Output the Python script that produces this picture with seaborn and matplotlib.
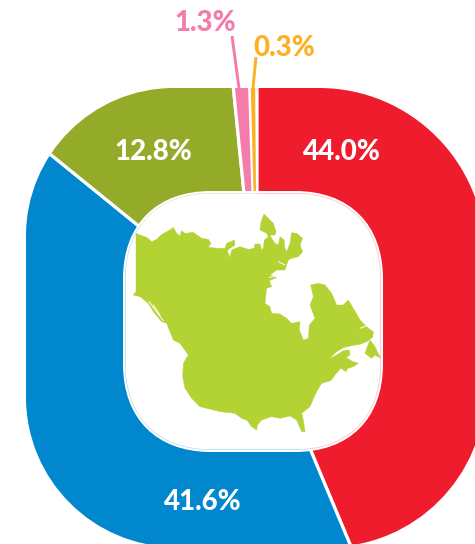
import matplotlib
matplotlib.use("Agg")
import matplotlib.pyplot as plt
import seaborn as sns
import numpy as np
from matplotlib.patches import PathPatch, Polygon
from matplotlib.path import Path

regions = ["Red", "Blue", "Olive", "Pink", "Orange"]
shares = [44.0, 41.6, 12.8, 1.3, 0.3]
colours = ["#EF1C2E", "#0087CE", "#94AB2A", "#F47BAA", "#FBB122"]
map_colour = "#B3D334"

# Illustration outline (traced, in 3x crop coordinates)
mainland = [(48,130),(65,137),(80,142),(95,155),(110,148),(123,135),(140,125),(150,120),(160,112),(170,130),(180,138),
 (185,122),(195,130),(220,127),(245,145),(265,148),(273,160),(265,172),(295,175),(315,175),(320,160),(343,150),(345,165),
 (330,175),(322,182),(330,203),(335,180),(360,170),(385,178),(402,175),(405,162),(420,162),(425,180),(430,175),(433,150),
 (445,140),(440,130),(420,120),(422,100),(432,72),(445,85),(460,100),(468,125),(465,135),(450,135),(455,145),(465,160),
 (475,165),(480,140),(492,150),(495,175),(500,185),(510,160),(515,128),(530,130),(548,145),(540,165),(548,185),(535,200),
 (515,205),(505,210),(495,240),(470,240),(450,255),(470,262),(448,272),(455,290),(440,295),(435,340),(450,350),(455,370),
 (480,372),(500,385),(515,400),(540,395),(538,420),(550,450),(565,445),(568,405),(585,385),(570,345),(580,320),(572,285),
 (595,280),(615,285),(635,310),(650,345),(670,345),(685,330),(700,355),(720,390),(745,415),(760,425),(758,442),(740,455),
 (720,463),(695,467),(670,473),(650,485),(625,508),(650,495),(670,482),(688,480),(690,495),(678,502),(695,513),(715,520),
 (700,530),(683,535),(678,545),(662,535),(645,555),(632,572),(605,580),(590,605),(583,620),(570,650),(545,670),(550,690),
 (555,725),(545,725),(530,690),(510,678),(480,685),(455,680),(425,690),(412,705),(410,720),(395,710),(380,690),(365,685),
 (345,670),(300,665),(260,655),(240,650),(215,625),(195,595),(188,560),(190,520),(205,495),(180,460),(160,450),(140,400),
 (125,395),(100,365),(85,340),(60,320),(40,315),(48,305)]
newfoundland = [(750,450),(765,470),(782,505),(765,495),(755,505),(735,490),(740,475)]
fjords = [[(88,335),(105,360),(130,392)], [(100,345),(120,375)], [(475,215),(495,225)], [(448,262),(468,258)],
          [(720,415),(745,405)]]

sns.set_theme(style="white")
plt.rcParams["font.family"] = ["Lato", "DejaVu Sans"]

H = 544
def fy(y):
    return H - y
def cx(p):
    return [(120 + x / 3, fy(190 + y / 3)) for x, y in p]

fig = plt.figure(figsize=(4.75, 5.44), dpi=100)
ax = fig.add_axes([0, 0, 1, 1])
palette = sns.color_palette(colours)

def rpath(x0, y0, x1, y1, radii, q=0.5523):
    tl, tr, br, bl = radii
    Y0, Y1 = fy(y1), fy(y0)  # Y0 = lower edge, Y1 = upper edge
    v = [(x0 + bl, Y0), (x1 - br, Y0), (x1 - br + q * br, Y0), (x1, Y0 + br - q * br), (x1, Y0 + br),
         (x1, Y1 - tr), (x1, Y1 - tr + q * tr), (x1 - tr + q * tr, Y1), (x1 - tr, Y1),
         (x0 + tl, Y1), (x0 + tl - q * tl, Y1), (x0, Y1 - tl + q * tl), (x0, Y1 - tl),
         (x0, Y0 + bl), (x0, Y0 + bl - q * bl), (x0 + bl - q * bl, Y0), (x0 + bl, Y0), (x0 + bl, Y0)]
    c = [Path.MOVETO, Path.LINETO, Path.CURVE4, Path.CURVE4, Path.CURVE4,
         Path.LINETO, Path.CURVE4, Path.CURVE4, Path.CURVE4,
         Path.LINETO, Path.CURVE4, Path.CURVE4, Path.CURVE4,
         Path.LINETO, Path.CURVE4, Path.CURVE4, Path.CURVE4, Path.CLOSEPOLY]
    return Path(v, c)

def white_box(x0, y0, x1, y1, r, z):
    ax.add_patch(PathPatch(rpath(x0, y0, x1, y1, (r, r, r, r), q=0.62), fc="white", ec="none", zorder=z))

def reset_view():
    ax.set_xlim(0, 475)
    ax.set_ylim(0, 544)
    ax.set_aspect("auto")

def nudge_rules(ws):
    # small rule offsets of the artwork relative to its nominal centre
    ws[0].set_theta1(ws[0].theta1 + 1.1)
    ws[1].set_theta2(ws[1].theta2 + 1.1)
    ws[1].set_theta1(ws[1].theta1 - 0.9)
    ws[2].set_theta2(ws[2].theta2 - 0.9)

centre = (257, fy(322))
wedges, _ = ax.pie(shares, colors=palette, startangle=90, counterclock=False, radius=520,
                   center=centre, wedgeprops=dict(edgecolor="white", linewidth=2.3, zorder=1))
reset_view()
outer = rpath(26, 88, 485, 547, (148, 166, 157, 150))
for w in wedges:
    w.set_clip_on(True)
    w.set_clip_path(outer, ax.transData)
nudge_rules(wedges)
# The thinnest slice would vanish under its white rule: keep it legible
wedges[3].set_theta1(wedges[3].theta1 + 0.7)
wedges[4].set_theta1(wedges[4].theta1 + 0.45)
wedges[4].set_theta2(wedges[4].theta2 + 0.45)
wedges[4].set_linewidth(0)

white_box(123, 191, 383, 452, 88, 2)
ghost, _ = ax.pie(shares, colors=palette, startangle=90, counterclock=False, radius=520,
                  center=centre, wedgeprops=dict(linewidth=0, alpha=0.3, zorder=3))
reset_view()
for w in ghost:
    w.set_clip_on(True)
    w.set_clip_path(rpath(125, 193, 381, 450, (86, 86, 86, 86), q=0.62), ax.transData)
nudge_rules(ghost)
white_box(125.7, 193.7, 380.3, 449.3, 85, 4)

ax.add_patch(Polygon(cx(mainland), closed=True, fc=map_colour, ec=map_colour, lw=0.3, zorder=5))
ax.add_patch(Polygon(cx(newfoundland), closed=True, fc=map_colour, ec=map_colour, lw=0.3, zorder=5))
for f in fjords:
    pts = np.array(cx(f))
    ax.plot(pts[:, 0], pts[:, 1], color="white", lw=0.7, zorder=6)

# leader lines
ax.plot([232, 239], [fy(36), fy(88)], color=palette[3], lw=2.1, zorder=1, solid_capstyle="butt")
ax.plot([256, 253], [fy(57), fy(88)], color=palette[4], lw=2.1, zorder=1, solid_capstyle="butt")

label_pos = [(342, 152), (203, 502), (153, 152), (205, 23), (284, 47.5)]
label_col = ["white", "white", "white", palette[3], palette[4]]
for v, (x, y), c in zip(shares, label_pos, label_col):
    ax.text(x, fy(y), f"{v:.1f}%", color=c, fontsize=20, fontweight=900, ha="center", va="center", zorder=7)

ax.axis("off")
fig.savefig("out.png", dpi=100, facecolor="white")
